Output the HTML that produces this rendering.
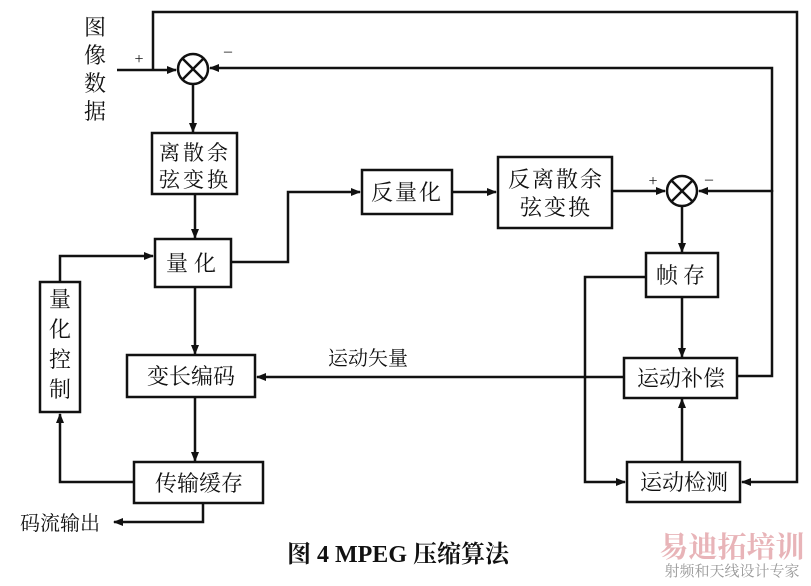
<!DOCTYPE html>
<html><head><meta charset="utf-8"><style>
body{margin:0;background:#fff;}
svg text{font-family:"Liberation Serif","Noto Serif CJK SC","Noto Sans CJK SC",serif;fill:#111;}
</style></head><body>
<svg width="811" height="581" viewBox="0 0 811 581" xmlns="http://www.w3.org/2000/svg">
<defs><marker id="a" markerWidth="10" markerHeight="8" refX="9" refY="4" orient="auto" markerUnits="userSpaceOnUse"><path d="M0,0 L10,4 L0,8 Z" fill="#111"/></marker></defs>
<g stroke="#111" stroke-width="2.5" fill="none">
<line x1="117" y1="70" x2="176" y2="70" marker-end="url(#a)"/>
<polyline points="153,70 153,12 797,12 797,482 742,482" marker-end="url(#a)"/>
<polyline points="772,192 772,68 210,68" marker-end="url(#a)"/>
<circle cx="193" cy="69" r="15" fill="#fff"/>
<line x1="183" y1="59" x2="203" y2="79"/><line x1="203" y1="59" x2="183" y2="79"/>
<line x1="193" y1="84" x2="193" y2="132" marker-end="url(#a)"/>
<line x1="195" y1="194" x2="195" y2="238" marker-end="url(#a)"/>
<polyline points="231,262 288,262 288,192 360,192" marker-end="url(#a)"/>
<line x1="452" y1="192" x2="496" y2="192" marker-end="url(#a)"/>
<line x1="612" y1="191" x2="665" y2="191" marker-end="url(#a)"/>
<polyline points="772,190 772,376 737,376"/>
<line x1="772" y1="191" x2="699" y2="191" marker-end="url(#a)"/>
<circle cx="682" cy="191" r="15" fill="#fff"/>
<line x1="672" y1="181" x2="692" y2="201"/><line x1="692" y1="181" x2="672" y2="201"/>
<line x1="682" y1="206" x2="682" y2="252" marker-end="url(#a)"/>
<line x1="682" y1="297" x2="682" y2="357" marker-end="url(#a)"/>
<line x1="682" y1="462" x2="682" y2="399" marker-end="url(#a)"/>
<polyline points="646,277 585,277 585,482 625,482" marker-end="url(#a)"/>
<line x1="624" y1="377" x2="257" y2="377" marker-end="url(#a)"/>
<line x1="195" y1="287" x2="195" y2="354" marker-end="url(#a)"/>
<line x1="195" y1="397" x2="195" y2="461" marker-end="url(#a)"/>
<polyline points="134,482 60,482 60,414" marker-end="url(#a)"/>
<polyline points="60,282 60,256 153,256" marker-end="url(#a)"/>
<polyline points="203,503 203,522 114,522" marker-end="url(#a)"/>
<rect x="152" y="133" width="85" height="61" fill="#fff"/>
<rect x="155" y="239" width="76" height="48" fill="#fff"/>
<rect x="362" y="170" width="90" height="44" fill="#fff"/>
<rect x="498" y="157" width="114" height="71" fill="#fff"/>
<rect x="646" y="253" width="72" height="44" fill="#fff"/>
<rect x="624" y="358" width="113" height="40" fill="#fff"/>
<rect x="627" y="462" width="113" height="40" fill="#fff"/>
<rect x="127" y="355" width="128" height="42" fill="#fff"/>
<rect x="134" y="462" width="129" height="41" fill="#fff"/>
<rect x="40" y="282" width="40" height="130" fill="#fff"/>
</g>
<g font-size="22" text-anchor="middle">
<text x="95" y="35">图</text><text x="95" y="63">像</text><text x="95" y="91">数</text><text x="95" y="119">据</text>
<text x="139" y="64" font-size="16">+</text><text x="228" y="56" font-size="16">–</text>
<text x="195" y="160" font-size="21" letter-spacing="3">离散余</text>
<text x="195" y="187" font-size="21" letter-spacing="3">弦变换</text>
<text x="194" y="271" letter-spacing="6">量化</text>
<text x="407" y="200" letter-spacing="2">反量化</text>
<text x="556" y="187" letter-spacing="2">反离散余</text>
<text x="556" y="215" letter-spacing="2">弦变换</text>
<text x="653" y="186" font-size="16">+</text><text x="709" y="184" font-size="16">–</text>
<text x="683" y="283" letter-spacing="5">帧存</text>
<text x="681" y="386">运动补偿</text>
<text x="684" y="490">运动检测</text>
<text x="191" y="384">变长编码</text>
<text x="199" y="491">传输缓存</text>
<text x="368" y="365" font-size="20">运动矢量</text>
<text x="60" y="307">量</text><text x="60" y="337">化</text><text x="60" y="367">控</text><text x="60" y="397">制</text>
<text x="60" y="530" font-size="20">码流输出</text>
<text x="398" y="562" font-size="24" font-weight="bold">图 4  MPEG 压缩算法</text>
<text x="732" y="557" font-size="29" font-weight="bold" style="fill:#e8b4b8">易迪拓培训</text>
<text x="732" y="576" font-size="15" style="fill:#999">射频和天线设计专家</text>
</g>
</svg>
</body></html>
